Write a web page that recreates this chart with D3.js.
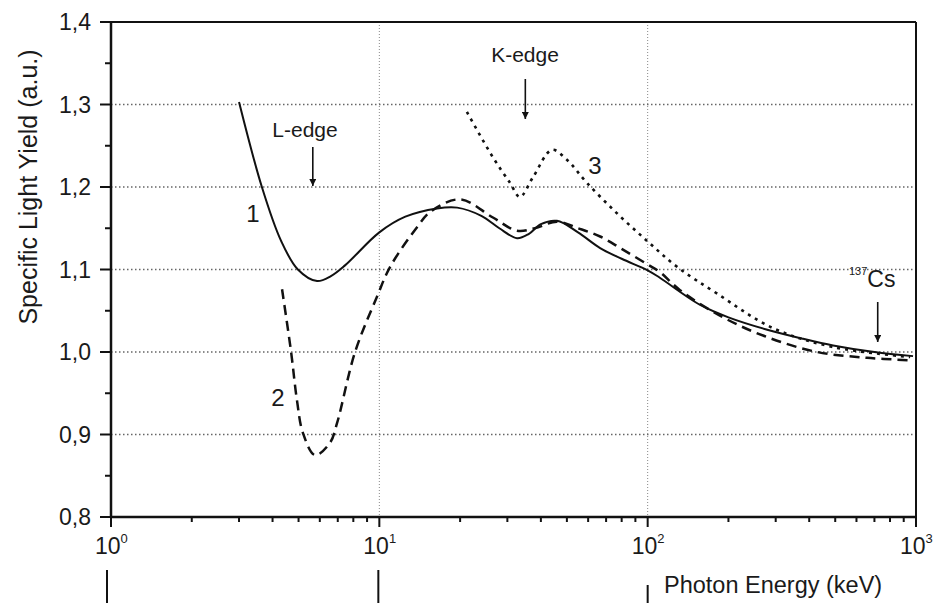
<!DOCTYPE html>
<html>
<head>
<meta charset="utf-8">
<script src="https://cdn.jsdelivr.net/npm/d3@7"></script>
<style>
  body { margin: 0; background: #fff; }
  text { font-family: "Liberation Sans", Arial, sans-serif; fill: #1a1a1a; }
</style>
</head>
<body>
<svg id="chart" width="934" height="603"></svg>
<script>
// curve 1 (solid)
var curve1E = [3.0, 3.65, 4.3, 4.97, 5.86, 6.6, 7.45, 10, 12.5, 16.4, 19.5, 24, 28, 32.6, 36, 40, 45.9, 55, 66.5, 80, 100, 111, 157, 200, 279, 380, 491, 700, 975];
var curve1V = [1.303, 1.2, 1.135, 1.1, 1.086, 1.092, 1.105, 1.145, 1.164, 1.174, 1.175, 1.165, 1.15, 1.138, 1.143, 1.155, 1.159, 1.145, 1.126, 1.113, 1.099, 1.09, 1.057, 1.042, 1.027, 1.016, 1.008, 1.0, 0.995];

// curve 2 (dashed)
var curve2E = [4.34, 4.69, 4.93, 5.19, 5.76, 6.55, 6.96, 8.12, 9.8, 10.96, 13.8, 15.5, 20, 26.5, 32.6, 38, 45.9, 55, 66.5, 80, 100, 111, 132, 191, 279, 428, 657, 951];
var curve2V = [1.076, 1.0, 0.942, 0.902, 0.875, 0.89, 0.914, 1.0, 1.067, 1.103, 1.151, 1.17, 1.185, 1.163, 1.147, 1.15, 1.158, 1.15, 1.14, 1.125, 1.106, 1.097, 1.075, 1.042, 1.018, 1.0, 0.993, 0.99];

// curve 3 (dotted)
var curve3E = [21.2, 26.5, 30.7, 33.4, 37.4, 44, 50, 59.4, 76.9, 100, 129, 181, 293, 491, 951];
var curve3V = [1.291, 1.236, 1.205, 1.188, 1.212, 1.245, 1.233, 1.205, 1.168, 1.134, 1.103, 1.071, 1.029, 1.006, 0.994];

var yMajor = [0.8, 0.9, 1.0, 1.1, 1.2, 1.3, 1.4];
var yMinor = [0.85, 0.95, 1.05, 1.15, 1.25, 1.35];
var yGrid = [0.9, 1.0, 1.1, 1.2, 1.3];
var xDecades = [1, 10, 100, 1000];
var xGrid = [10, 100];

var svg = d3.select("#chart")

var pLeft = 111, pRight = 916, pTop = 22, pBottom = 517;

var xScale = d3.scaleLog()
    .domain([1, 1000])
    .range([pLeft, pRight])

var yScale = d3.scaleLinear()
    .domain([0.8, 1.4])
    .range([pBottom, pTop])

var xMinor = []
xDecades.slice(0, 3).forEach(function(d){
    for (var k = 2; k <= 9; k++) { xMinor.push(d * k) }
})

// grid
svg.selectAll(".hgrid")
    .data(yGrid)
    .enter()
    .append("line")
    .attr("x1", pLeft).attr("x2", pRight)
    .attr("y1", function(d){ return yScale(d) })
    .attr("y2", function(d){ return yScale(d) })
    .attr("stroke", "#666")
    .attr("stroke-width", 1.3)
    .attr("stroke-dasharray", "1.5,2.5")

svg.selectAll(".vgrid")
    .data(xGrid)
    .enter()
    .append("line")
    .attr("x1", function(d){ return xScale(d) })
    .attr("x2", function(d){ return xScale(d) })
    .attr("y1", pTop).attr("y2", pBottom)
    .attr("stroke", "#888")
    .attr("stroke-width", 1)
    .attr("stroke-dasharray", "1,2")

// frame
svg.append("line").attr("x1", pLeft - 11).attr("x2", pRight).attr("y1", pTop).attr("y2", pTop)
    .attr("stroke", "#111").attr("stroke-width", 2)
svg.append("line").attr("x1", pRight).attr("x2", pRight).attr("y1", pTop).attr("y2", pBottom)
    .attr("stroke", "#111").attr("stroke-width", 2)
svg.append("line").attr("x1", pLeft).attr("x2", pLeft).attr("y1", pTop).attr("y2", pBottom)
    .attr("stroke", "#111").attr("stroke-width", 2.5)
svg.append("line").attr("x1", pLeft).attr("x2", pRight).attr("y1", pBottom).attr("y2", pBottom)
    .attr("stroke", "#111").attr("stroke-width", 2.5)

// y ticks
svg.selectAll(".ymaj")
    .data(yMajor)
    .enter()
    .append("line")
    .attr("x1", pLeft - 11).attr("x2", pLeft)
    .attr("y1", function(d){ return yScale(d) })
    .attr("y2", function(d){ return yScale(d) })
    .attr("stroke", "#111").attr("stroke-width", 2)

svg.selectAll(".ymin")
    .data(yMinor)
    .enter()
    .append("line")
    .attr("x1", pLeft - 6).attr("x2", pLeft)
    .attr("y1", function(d){ return yScale(d) })
    .attr("y2", function(d){ return yScale(d) })
    .attr("stroke", "#111").attr("stroke-width", 2)

svg.selectAll(".ylab")
    .data(yMajor)
    .enter()
    .append("text")
    .attr("x", pLeft - 20)
    .attr("y", function(d){ return yScale(d) + 8 })
    .attr("text-anchor", "end")
    .style("font-size", "23px")
    .text(function(d){ return d.toFixed(1).replace(".", ",") })

// x ticks
svg.selectAll(".xmaj")
    .data(xDecades)
    .enter()
    .append("line")
    .attr("x1", function(d){ return xScale(d) })
    .attr("x2", function(d){ return xScale(d) })
    .attr("y1", pBottom).attr("y2", pBottom + 10)
    .attr("stroke", "#111").attr("stroke-width", 2)

svg.selectAll(".xmin")
    .data(xMinor)
    .enter()
    .append("line")
    .attr("x1", function(d){ return xScale(d) })
    .attr("x2", function(d){ return xScale(d) })
    .attr("y1", pBottom).attr("y2", pBottom + 5)
    .attr("stroke", "#111").attr("stroke-width", 2)

var xlab = svg.selectAll(".xlab")
    .data(xDecades)
    .enter()
    .append("text")
    .attr("x", function(d){ return xScale(d) - 16 })
    .attr("y", 554)
    .style("font-size", "23px")
xlab.append("tspan").text("10")
xlab.append("tspan")
    .attr("dy", -11)
    .style("font-size", "13px")
    .text(function(d){ return Math.round(Math.log10(d)) })

// axis titles
svg.append("text")
    .attr("transform", "translate(37,187) rotate(-90)")
    .attr("text-anchor", "middle")
    .style("font-size", "25px")
    .text("Specific Light Yield (a.u.)")

svg.append("text")
    .attr("x", 664).attr("y", 593)
    .style("font-size", "23.5px")
    .text("Photon Energy (keV)")

// stray bars below the axis
svg.selectAll(".bar")
    .data([1, 10, 100])
    .enter()
    .append("line")
    .attr("x1", function(d, i){ return xScale(d) - [4, 1, 0][i] })
    .attr("x2", function(d, i){ return xScale(d) - [4, 1, 0][i] })
    .attr("y1", function(d, i){ return i < 2 ? 570 : 585 })
    .attr("y2", 603)
    .attr("stroke", "#111").attr("stroke-width", 2)

// curves
var line = d3.line()
    .x(function(d){ return xScale(d[0]) })
    .y(function(d){ return yScale(d[1]) })
    .curve(d3.curveCatmullRom.alpha(0.5))

var series = [
    { e: curve1E, v: curve1V, dash: null, w: 2 },
    { e: curve2E, v: curve2V, dash: "10,6", w: 2.5 },
    { e: curve3E, v: curve3V, dash: "3,5", w: 2.6 }
]

series.forEach(function(s){
    var pts = s.e.map(function(e, i){ return [e, s.v[i]] })
    svg.append("path")
        .attr("d", line(pts))
        .attr("fill", "none")
        .attr("stroke", "#111")
        .attr("stroke-width", s.w)
        .attr("stroke-dasharray", s.dash)
})

// annotations
svg.append("defs").append("marker")
    .attr("id", "head")
    .attr("viewBox", "0 0 10 10")
    .attr("refX", 10).attr("refY", 5)
    .attr("markerWidth", 7).attr("markerHeight", 7)
    .attr("markerUnits", "userSpaceOnUse")
    .attr("orient", "auto")
    .append("path")
    .attr("d", "M0,0 L10,5 L0,10 z")
    .attr("fill", "#111")

var arrows = [
    { e: 5.65, y1: 147, y2: 186 },
    { e: 35, y1: 79, y2: 119 },
    { e: 720, y1: 302, y2: 342 }
]
svg.selectAll(".arrow")
    .data(arrows)
    .enter()
    .append("line")
    .attr("x1", function(d){ return xScale(d.e) })
    .attr("x2", function(d){ return xScale(d.e) })
    .attr("y1", function(d){ return d.y1 })
    .attr("y2", function(d){ return d.y2 })
    .attr("stroke", "#111").attr("stroke-width", 1.6)
    .attr("marker-end", "url(#head)")

svg.append("text").attr("x", 305).attr("y", 137).attr("text-anchor", "middle")
    .style("font-size", "21px").text("L-edge")
svg.append("text").attr("x", 525).attr("y", 62).attr("text-anchor", "middle")
    .style("font-size", "21px").text("K-edge")

var cs = svg.append("text").attr("x", 849).attr("y", 287)
cs.append("tspan").style("font-size", "11px").attr("dy", -12).text("137")
cs.append("tspan").style("font-size", "23px").attr("dy", 12).text("Cs")

svg.append("text").attr("x", 253).attr("y", 222).attr("text-anchor", "middle")
    .style("font-size", "24px").text("1")
svg.append("text").attr("x", 278).attr("y", 406).attr("text-anchor", "middle")
    .style("font-size", "24px").text("2")
svg.append("text").attr("x", 595).attr("y", 174).attr("text-anchor", "middle")
    .style("font-size", "24px").text("3")
</script>
</body>
</html>
